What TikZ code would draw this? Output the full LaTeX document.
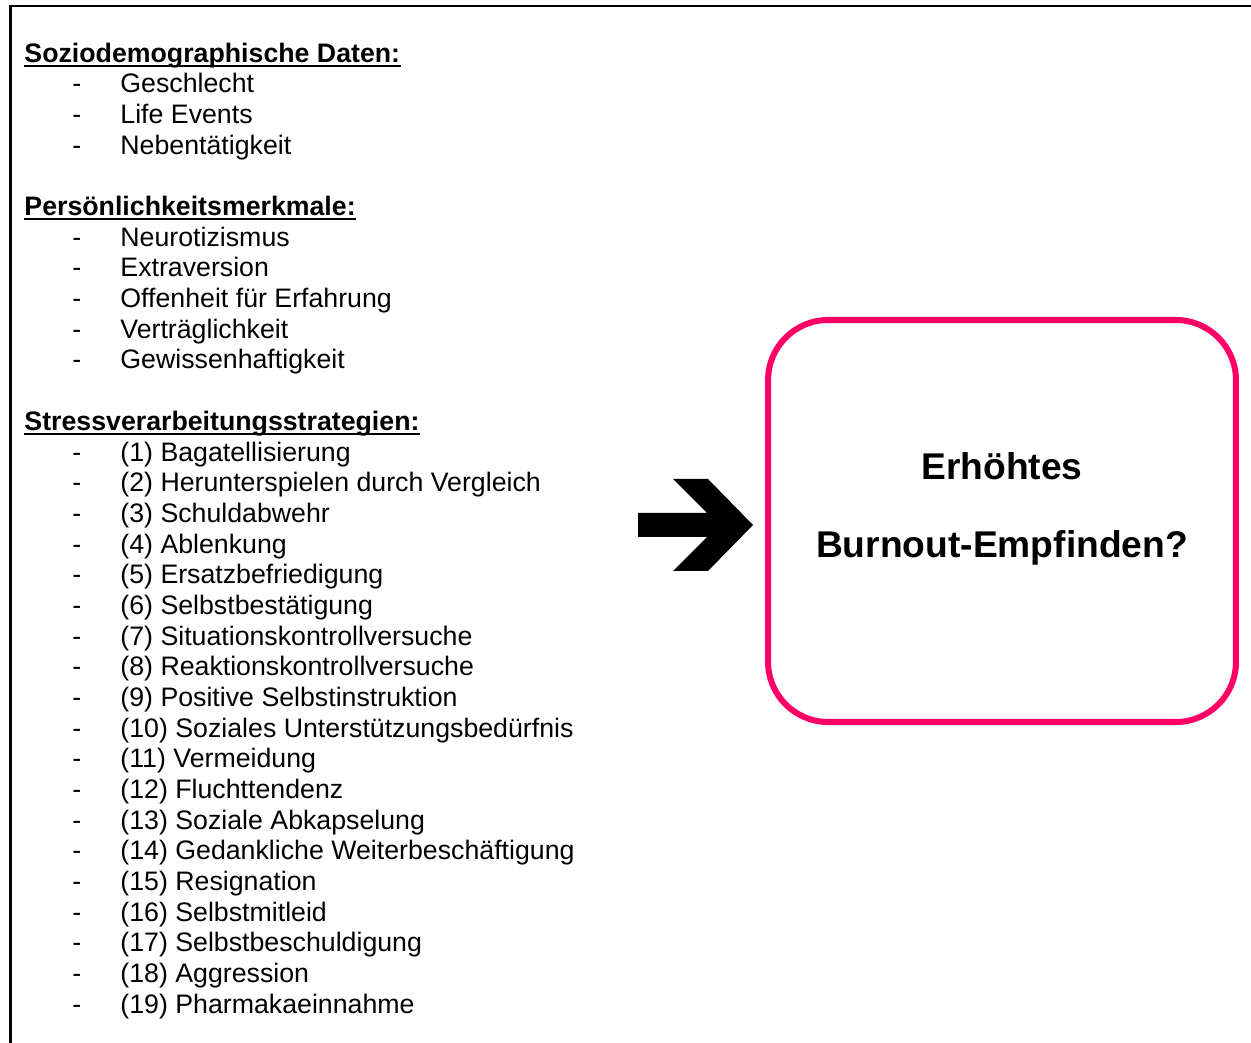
\documentclass[tikz,border=0pt]{standalone}
\usepackage{fontspec}
\setmainfont{Liberation Sans}
\usepackage{xcolor}
\usetikzlibrary{positioning}
\definecolor{burnpink}{RGB}{255,0,102}

\begin{document}
\begin{tikzpicture}[x=0.449pt,y=-0.449pt,
  head/.style={anchor=base west,inner sep=0pt,font=\fontsize{12}{14}\selectfont\bfseries},
  item/.style={anchor=base west,inner sep=0pt,font=\fontsize{12}{14}\selectfont},
  bigtext/.style={anchor=base,inner sep=0pt,font=\fontsize{16.7}{20}\selectfont\bfseries},
  outcome/.style={draw=burnpink,line width=2.7pt,rounded corners=27pt,
    minimum width=210.1pt,minimum height=180.5pt,inner sep=0pt}]
  \useasboundingbox (0,0) rectangle (1251,1043);
  % page frame (runs off to the right and bottom)
  \draw[line width=1.1pt] (10.5,1043) -- (10.5,6) -- (1251,6);
  % headings with underline
  \node[head] (soz) at (24,62.3) {Soziodemographische Daten:};
  \node[head] (pers) at (24,{62.3+5*30.67}) {Persönlichkeitsmerkmale:};
  \node[head] (stress) at (24,{62.3+12*30.67}) {Stressverarbeitungsstrategien:};
  \foreach \h in {soz,pers,stress}
    \draw[line width=0.9pt] ([yshift=-1.6pt]\h.base west) -- ([yshift=-1.6pt]\h.base east);
  % list entries
  \foreach \txt [count=\i] in {Geschlecht,Life Events,Nebentätigkeit}{
    \node[item] (sozdash\i) at (72,{62.3+\i*30.67}) {-};
    \node[item] (soz\i) at (120,{62.3+\i*30.67}) {\txt};
  }
  \foreach \txt [count=\i] in {Neurotizismus,Extraversion,Offenheit für Erfahrung,
      Verträglichkeit,Gewissenhaftigkeit}{
    \node[item] (persdash\i) at (72,{62.3+(5+\i)*30.67}) {-};
    \node[item] (pers\i) at (120,{62.3+(5+\i)*30.67}) {\txt};
  }
  \foreach \txt [count=\i] in {Bagatellisierung,Herunterspielen durch Vergleich,
      Schuldabwehr,Ablenkung,Ersatzbefriedigung,Selbstbestätigung,
      Situationskontrollversuche,Reaktionskontrollversuche,Positive Selbstinstruktion,
      Soziales Unterstützungsbedürfnis,Vermeidung,Fluchttendenz,Soziale Abkapselung,
      Gedankliche Weiterbeschäftigung,Resignation,Selbstmitleid,Selbstbeschuldigung,
      Aggression,Pharmakaeinnahme}{
    \node[item] (stressdash\i) at (72,{62.3+(12+\i)*30.67}) {-};
    \node[item] (stress\i) at (120,{62.3+(12+\i)*30.67}) {(\i) \txt};
  }
  % block arrow
  \fill (638,513) -- (707,513) -- (673,479) -- (708,479) -- (753,525)
    -- (708,571) -- (673,571) -- (707,537) -- (638,537) -- cycle;
  % outcome box
  \node[outcome] (burnout) at (1002,521) {};
  \node[bigtext] (erh) at (1002,480) {Erhöhtes};
  \node[bigtext] (emp) at (1002,558) {Burnout-Empfinden?};
\end{tikzpicture}
\end{document}
